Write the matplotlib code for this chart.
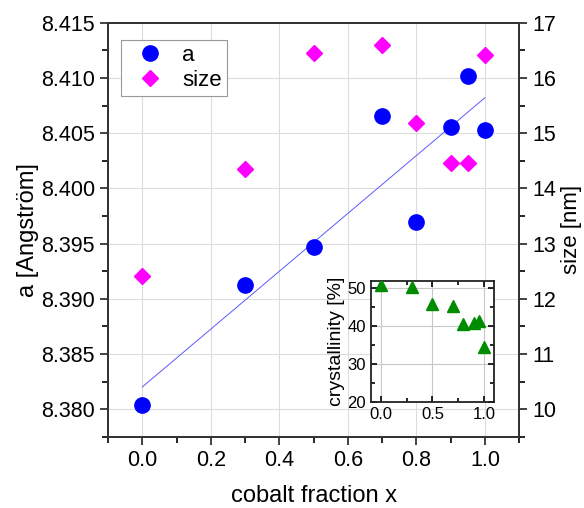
"""Parametre de xarxa, mida i cristal·linitat en funció de la fracció de cobalt."""

import matplotlib
matplotlib.use("Agg")
import matplotlib.pyplot as plt
import numpy as np
from matplotlib.ticker import FormatStrFormatter, MultipleLocator

plt.rcParams["font.family"] = ["Liberation Sans", "DejaVu Sans"]

cobalt_x = [0.0, 0.3, 0.5, 0.7, 0.8, 0.9, 0.95, 1.0]
lattice_a = [8.3804, 8.3913, 8.3947, 8.4066, 8.3970, 8.4056, 8.4102, 8.4053]
size_nm = [12.42, 14.35, 16.45, 16.60, 15.19, 14.47, 14.47, 16.41]
crystallinity = [50.9, 50.4, 46.0, 45.3, 40.7, 40.9, 41.4, 34.6]

# ajust lineal del parametre de xarxa
slope, intercept = np.polyfit(cobalt_x, lattice_a, 1)
fit_x = np.array([0.0, 1.0])
fit_a = slope * fit_x + intercept

fig = plt.figure(figsize=(5.84, 5.08), dpi=100)
ax = fig.add_axes([0.185, 0.140, 0.704, 0.815])
ax2 = ax.twinx()

ax.plot(fit_x, fit_a, color="#5a5aff", linewidth=0.7, zorder=2)
ax.plot(cobalt_x, lattice_a, "o", color="#0000ff", markersize=11,
        linestyle="none", label="a", zorder=3)
ax2.plot(cobalt_x, size_nm, "D", color="#ff00ff", markersize=8,
         linestyle="none", label="size", zorder=3)

ax.set_xlim(-0.1, 1.1)
ax.set_ylim(8.3775, 8.415)
ax2.set_ylim(9.5, 17)

ax.xaxis.set_major_locator(MultipleLocator(0.2))
ax.xaxis.set_minor_locator(MultipleLocator(0.1))
ax.yaxis.set_major_locator(MultipleLocator(0.005))
ax.yaxis.set_minor_locator(MultipleLocator(0.0025))
ax2.yaxis.set_major_locator(MultipleLocator(1))
ax2.yaxis.set_minor_locator(MultipleLocator(0.5))
ax.yaxis.set_major_formatter(FormatStrFormatter("%.3f"))
ax.xaxis.set_major_formatter(FormatStrFormatter("%.1f"))

ax.grid(True, which="major", color="#dcdcdc", linewidth=0.8, zorder=0)
ax.set_axisbelow(True)

for a in (ax, ax2):
    a.tick_params(which="major", direction="out", length=6, width=1.2,
                  labelsize=15.5, colors="#222222", labelcolor="black")
    a.tick_params(which="minor", direction="out", length=4, width=1.2)
    for spine in a.spines.values():
        spine.set_linewidth(1.3)
        spine.set_color("#333333")

ax.set_xlabel("cobalt fraction x", fontsize=17, labelpad=10)
ax.set_ylabel("a [Angström]", fontsize=17)
ax.yaxis.set_label_coords(-0.168, 0.5)
ax2.set_ylabel("size [nm]", fontsize=16)
ax2.yaxis.set_label_coords(1.101, 0.5)

h1, l1 = ax.get_legend_handles_labels()
h2, l2 = ax2.get_legend_handles_labels()
leg = ax2.legend(h1 + h2, l1 + l2, loc="upper left",
                 bbox_to_anchor=(0.031, 0.959), borderaxespad=0,
                 fontsize=16, fancybox=False, framealpha=1,
                 edgecolor="#999999", handletextpad=0.35, borderpad=0.22,
                 labelspacing=0.2, handlelength=2.2)
leg.get_frame().set_linewidth(0.8)

# inset amb la cristal·linitat
ins = fig.add_axes([0.635, 0.209, 0.211, 0.238])
ins.plot(cobalt_x, crystallinity, "^", color="#008c00", markersize=8,
         linestyle="none", zorder=3)
ins.set_xlim(-0.1, 1.1)
ins.set_ylim(20, 52)
ins.xaxis.set_major_locator(MultipleLocator(0.5))
ins.xaxis.set_minor_locator(MultipleLocator(0.25))
ins.yaxis.set_major_locator(MultipleLocator(10))
ins.yaxis.set_minor_locator(MultipleLocator(5))
ins.xaxis.set_major_formatter(FormatStrFormatter("%.1f"))
ins.grid(True, which="major", color="#c8c8c8", linewidth=0.8, zorder=0)
ins.set_axisbelow(True)
ins.tick_params(which="both", direction="in", top=True, right=True,
                width=1.2, labelsize=12)
ins.tick_params(which="major", length=4)
ins.tick_params(which="minor", length=3)
for spine in ins.spines.values():
    spine.set_linewidth(1.3)
    spine.set_color("#222222")
ins.set_ylabel("crystallinity [%]", fontsize=14, labelpad=2)

fig.savefig("out.png", dpi=100)
